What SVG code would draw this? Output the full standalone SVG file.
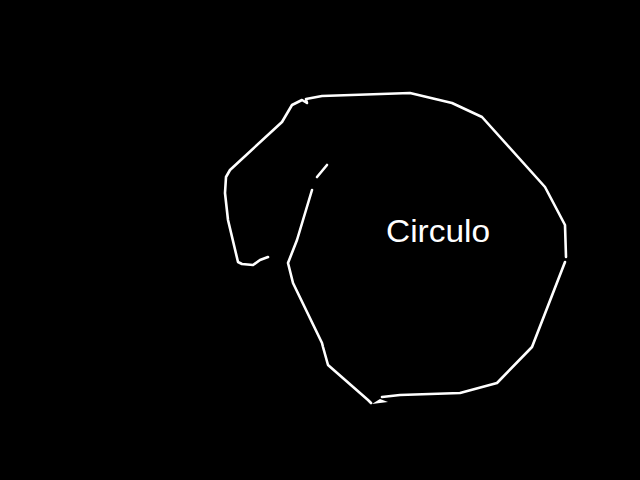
<svg xmlns="http://www.w3.org/2000/svg" width="640" height="480" viewBox="0 0 640 480">
<style>
.s{fill:none;stroke:#fff;stroke-width:2.6;stroke-linejoin:round;stroke-linecap:round}
.t{font-family:"Liberation Sans",Arial,sans-serif;font-size:31px;fill:#fff}
</style>
<rect width="640" height="480" fill="#000"/>
<g id="circulo">
<polyline class="s" points="268,257 260,260 253,265 242,264 238,262 228,220 225,193 226,177 230,170 282,122 292,105 302,100 307,103 306,99 322,96 410,93 452,103 482,117 545,187 565,225 566,257"/>
<polyline class="s" points="565,262 532,347 497,383 460,393 400,395 382,397"/>
<polyline class="s" points="371,403 368,400 328,365 323,347 322,343 293,283 288,263 297,240 312,190"/>
<polyline class="s" points="317,177 327,165"/>
<polygon fill="#fff" points="372,404 380,399 388,402"/>
<text class="t" x="386" y="242" textLength="104" lengthAdjust="spacingAndGlyphs">Circulo</text>
</g>
</svg>
